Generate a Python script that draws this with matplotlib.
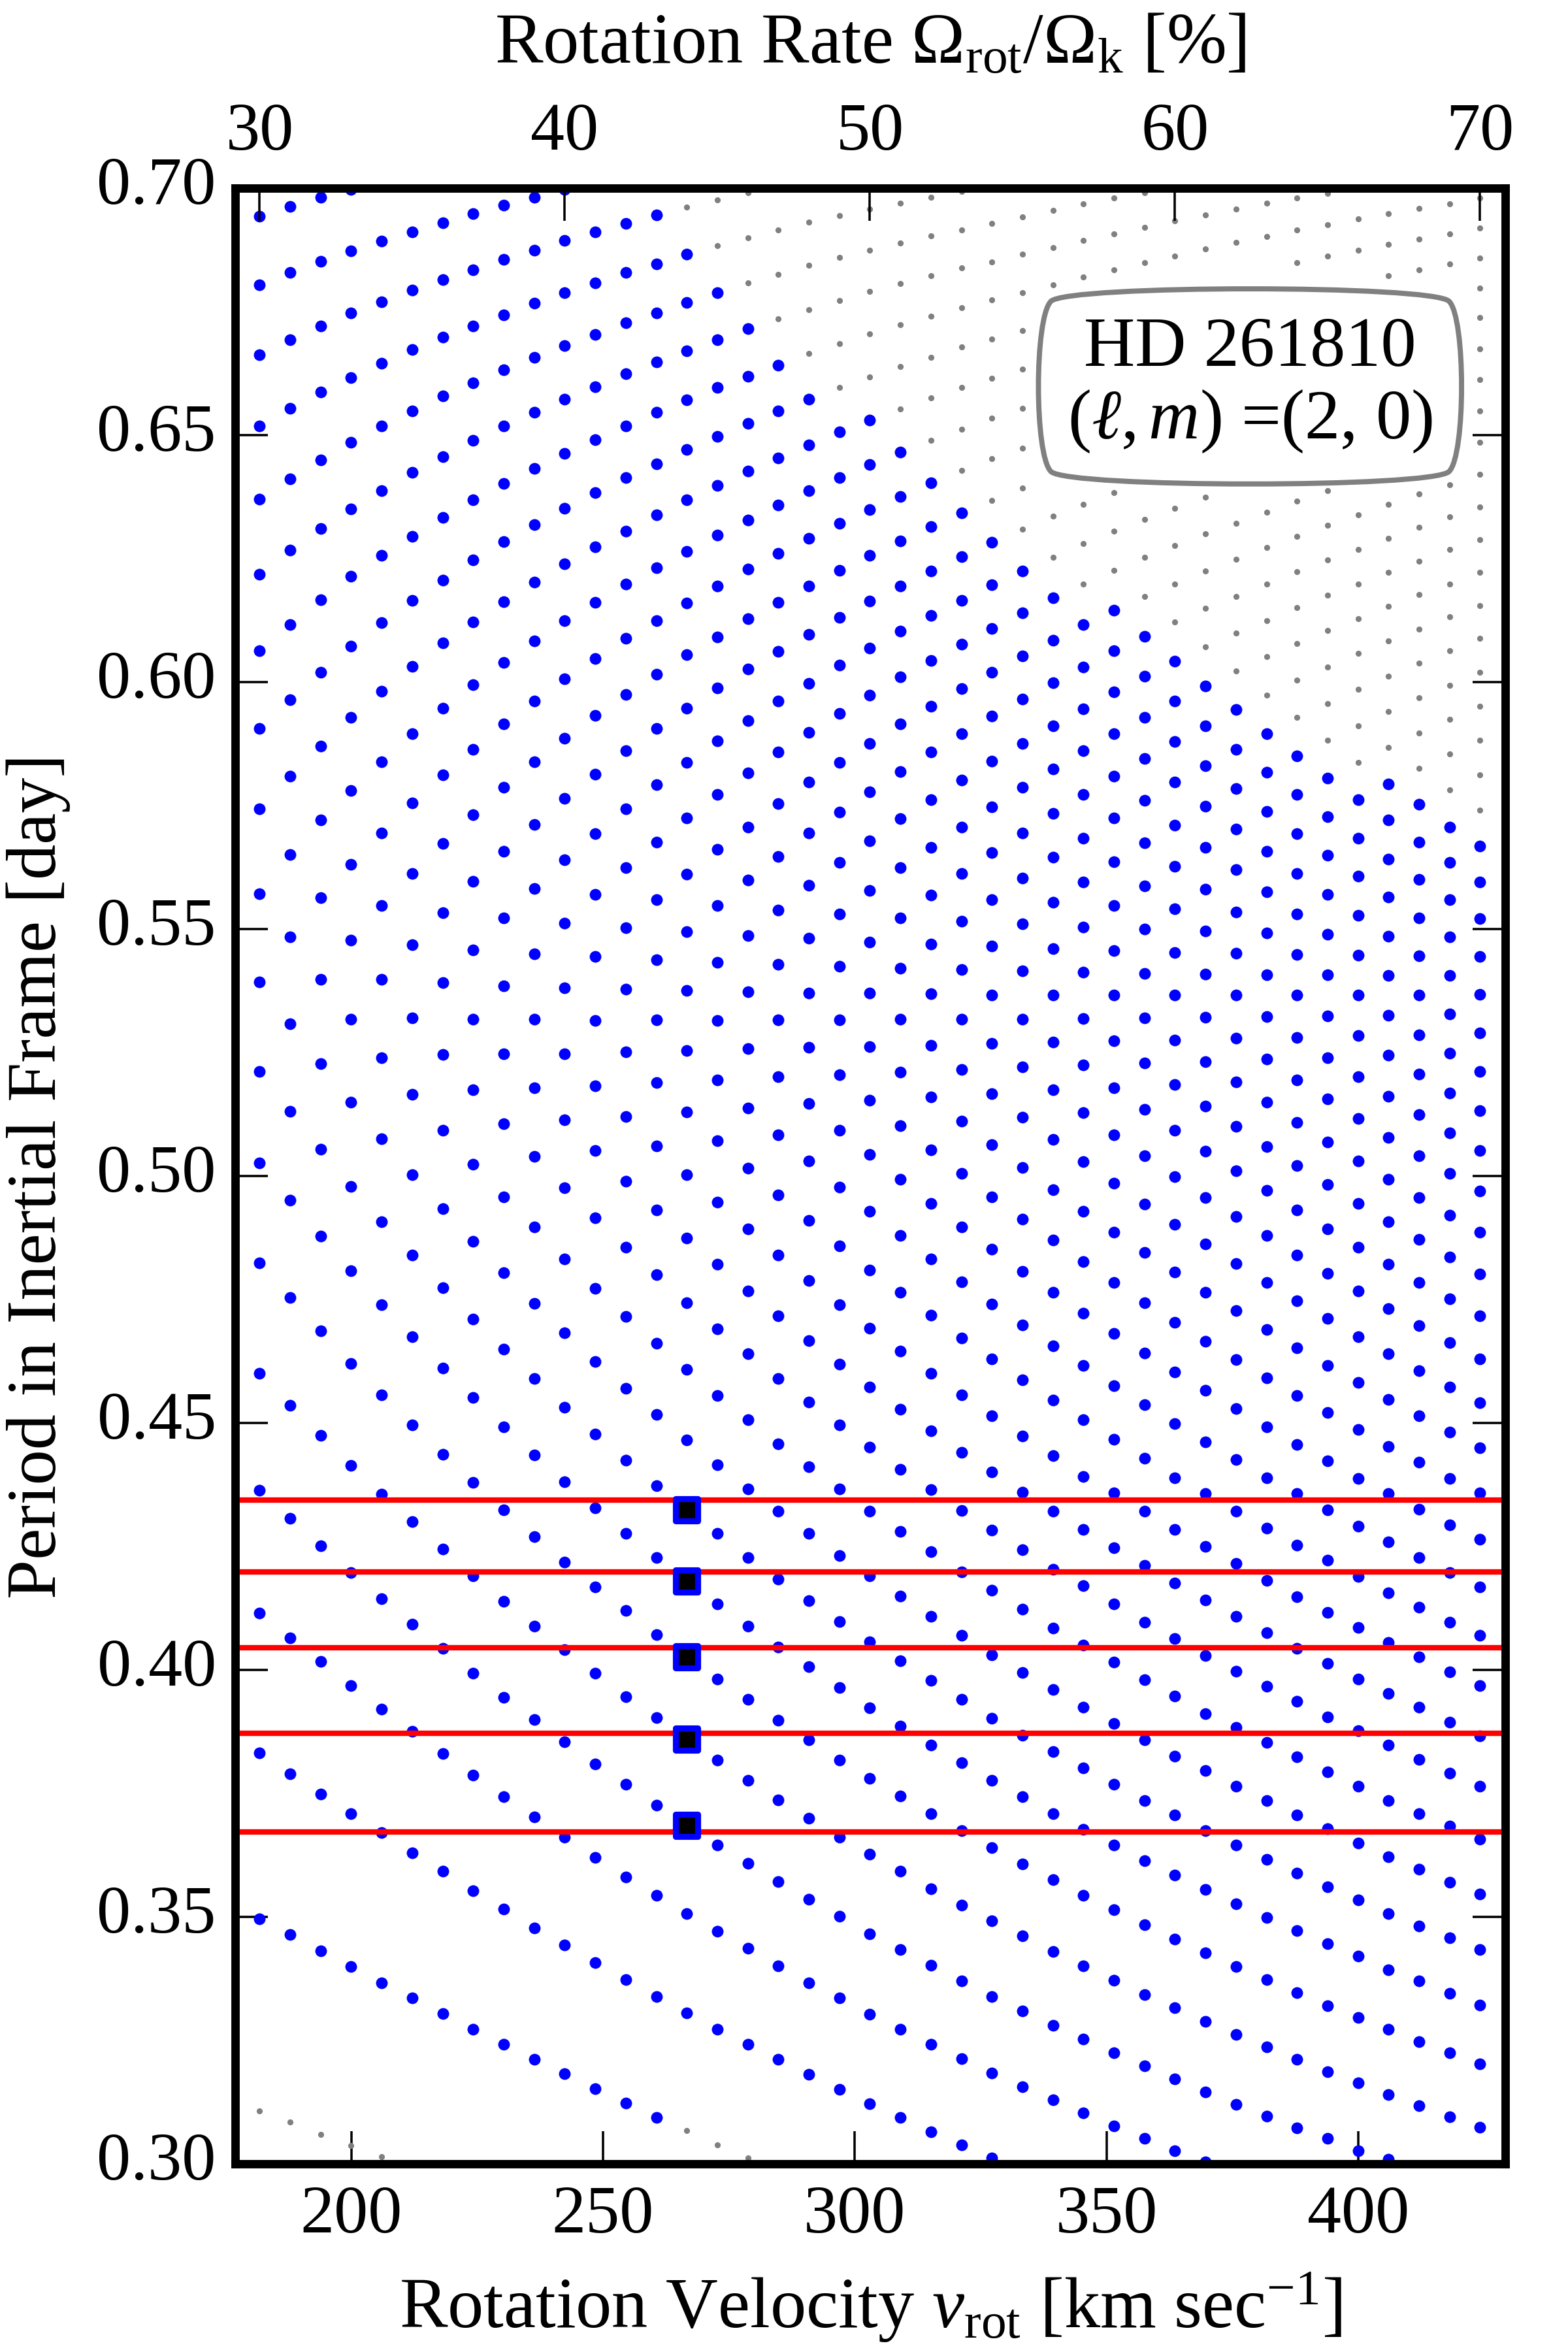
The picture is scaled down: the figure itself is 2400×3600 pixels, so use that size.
import numpy as np
import matplotlib
matplotlib.use("Agg")
import matplotlib.pyplot as plt
from matplotlib.markers import MarkerStyle
from matplotlib.transforms import ScaledTranslation

plt.rcParams["font.family"] = ["Liberation Serif", "DejaVu Serif"]
plt.rcParams["mathtext.fontset"] = "custom"
plt.rcParams["mathtext.rm"] = "Liberation Serif"
plt.rcParams["mathtext.it"] = "Liberation Serif:italic"
plt.rcParams["mathtext.fallback"] = "stix"

# rotation rate in percent of critical, one column of periods per rate
rates = list(range(30, 71))
v_per_percent = 6.06

b30 = [.6943,.6804,.6663,.6519,.6371,.6218,.6063,.5906,.5743,.5572,.5393,.5212,.5027,.4824,.4600,.4364,.4115,.3832,.3496]
b31 = [.6963,.6829,.6693,.6554,.6412,.6267,.6117,.5964,.5810,.5651,.5484,.5308,.5131,.4951,.4754,.4536,.4307,.4065,.3790,.3464]
b32 = [.6981,.6852,.6721,.6587,.6450,.6311,.6167,.6020,.5870,.5721,.5563,.5398,.5227,.5054,.4878,.4686,.4475,.4251,.4017,.3749,.3431]
b33 = [.6997,.6873,.6747,.6617,.6485,.6350,.6214,.6073,.5928,.5780,.5631,.5478,.5318,.5150,.4979,.4808,.4621,.4414,.4197,.3968,.3709,.3399]
b34 = [.6893,.6770,.6646,.6518,.6388,.6256,.6121,.5982,.5839,.5695,.5548,.5398,.5239,.5075,.4908,.4740,.4557,.4356,.4144,.3921,.3670,.3367]
b35 = [.6912,.6793,.6673,.6549,.6424,.6295,.6166,.6032,.5895,.5755,.5612,.5468,.5320,.5165,.5003,.4840,.4675,.4496,.4300,.4093,.3876,.3630,.3336]
b36 = [.6930,.6815,.6698,.6579,.6457,.6333,.6207,.6079,.5947,.5812,.5673,.5533,.5392,.5246,.5092,.4934,.4774,.4611,.4436,.4245,.4043,.3831,.3592,.3304]
b37 = [.6948,.6835,.6721,.6606,.6489,.6369,.6247,.6122,.5995,.5864,.5732,.5596,.5458,.5318,.5175,.5024,.4868,.4710,.4551,.4379,.4190,.3993,.3787,.3553,.3272]
b38 = [.6965,.6856,.6744,.6632,.6518,.6402,.6284,.6163,.6040,.5915,.5787,.5657,.5522,.5385,.5247,.5106,.4958,.4804,.4649,.4492,.4324,.4139,.3945,.3744,.3516,.3242]
b39 = [.6982,.6875,.6767,.6657,.6546,.6433,.6319,.6203,.6083,.5961,.5838,.5711,.5582,.5450,.5317,.5179,.5040,.4897,.4742,.4590,.4435,.4270,.4089,.3900,.3702,.3478,.3211]
b40 = [.6997,.6894,.6788,.6681,.6573,.6463,.6352,.6240,.6124,.6007,.5886,.5765,.5640,.5512,.5381,.5248,.5114,.4976,.4832,.4683,.4532,.4381,.4218,.4041,.3854,.3661,.3443,.3182]
b41 = [.6911,.6808,.6704,.6598,.6491,.6383,.6274,.6162,.6048,.5932,.5814,.5693,.5570,.5444,.5315,.5183,.5051,.4915,.4773,.4625,.4477,.4328,.4168,.3993,.3810,.3620,.3407,.3152]
b42 = [.6929,.6829,.6727,.6624,.6519,.6414,.6306,.6198,.6088,.5975,.5861,.5744,.5625,.5503,.5378,.5251,.5121,.4990,.4856,.4716,.4570,.4424,.4277,.4120,.3946,.3768,.3581,.3373,.3123]
b43 = [.6946,.6847,.6748,.6648,.6546,.6442,.6338,.6232,.6125,.6016,.5906,.5792,.5676,.5559,.5438,.5316,.5189,.5061,.4931,.4800,.4661,.4517,.4373,.4228,.4072,.3903,.3726,.3544,.3339,.3094]
b44 = [.6866,.6769,.6671,.6571,.6471,.6369,.6265,.6160,.6055,.5947,.5837,.5725,.5611,.5495,.5376,.5254,.5129,.5003,.4875,.4744,.4608,.4465,.4324,.4180,.4027,.3860,.3685,.3506,.3306]
b45 = [.6789,.6693,.6596,.6498,.6398,.6297,.6195,.6091,.5988,.5881,.5772,.5661,.5548,.5433,.5315,.5195,.5072,.4947,.4821,.4691,.4556,.4416,.4276,.4134,.3982,.3817,.3646,.3471,.3273]
b46 = [.6715,.6619,.6524,.6427,.6328,.6229,.6128,.6026,.5922,.5816,.5707,.5599,.5487,.5373,.5258,.5138,.5016,.4893,.4767,.4640,.4506,.4367,.4228,.4089,.3940,.3777,.3609,.3436,.3242]
b47 = [.6642,.6549,.6454,.6358,.6261,.6162,.6062,.5961,.5859,.5754,.5647,.5539,.5428,.5316,.5201,.5083,.4962,.4840,.4717,.4590,.4458,.4321,.4184,.4046,.3898,.3737,.3572,.3401,.3211]
b48 = [.6573,.6480,.6387,.6291,.6195,.6097,.5998,.5898,.5797,.5694,.5588,.5481,.5371,.5260,.5147,.5030,.4910,.4789,.4667,.4542,.4411,.4276,.4140,.4006,.3858,.3700,.3536,.3367,.3181]
b49 = [.6506,.6414,.6321,.6226,.6131,.6035,.5937,.5837,.5737,.5635,.5531,.5424,.5316,.5205,.5093,.4978,.4859,.4740,.4619,.4496,.4366,.4232,.4098,.3964,.3818,.3661,.3501,.3336,.3151]
b50 = [.6530,.6440,.6349,.6257,.6164,.6069,.5973,.5876,.5778,.5679,.5578,.5474,.5370,.5262,.5153,.5043,.4928,.4810,.4692,.4573,.4451,.4322,.4190,.4057,.3923,.3781,.3627,.3466,.3303,.3122]
b51 = [.6466,.6376,.6286,.6195,.6103,.6010,.5915,.5819,.5723,.5624,.5523,.5421,.5317,.5210,.5102,.4993,.4880,.4764,.4646,.4528,.4406,.4280,.4149,.4018,.3886,.3745,.3592,.3434,.3272,.3094]
b52 = [.6403,.6315,.6225,.6135,.6044,.5951,.5858,.5762,.5666,.5569,.5470,.5369,.5265,.5160,.5053,.4944,.4832,.4718,.4601,.4484,.4365,.4239,.4109,.3979,.3848,.3709,.3557,.3402,.3242,.3065]
b53 = [.6342,.6254,.6166,.6077,.5987,.5895,.5802,.5706,.5612,.5516,.5418,.5318,.5215,.5111,.5005,.4897,.4786,.4672,.4557,.4441,.4323,.4199,.4070,.3941,.3812,.3674,.3524,.3370,.3213,.3039]
b54 = [.6283,.6197,.6109,.6020,.5931,.5840,.5748,.5655,.5560,.5465,.5367,.5268,.5167,.5064,.4958,.4852,.4741,.4629,.4515,.4401,.4283,.4161,.4031,.3902,.3776,.3640,.3492,.3339,.3184,.3012]
b55 = [.6225,.6140,.6053,.5966,.5876,.5787,.5695,.5603,.5510,.5415,.5318,.5221,.5119,.5017,.4913,.4807,.4698,.4587,.4474,.4360,.4244,.4123,.3995,.3868,.3743,.3607,.3461,.3310,.3156]
b56 = [.6170,.6085,.5999,.5912,.5824,.5734,.5645,.5554,.5460,.5366,.5271,.5174,.5074,.4972,.4870,.4764,.4656,.4546,.4434,.4322,.4204,.4085,.3960,.3835,.3709,.3575,.3430,.3281,.3129]
b57 = [.6116,.6031,.5946,.5861,.5773,.5684,.5595,.5504,.5413,.5319,.5225,.5128,.5029,.4929,.4827,.4722,.4616,.4506,.4391,.4284,.4170,.4050,.3925,.3802,.3677,.3544,.3401,.3253,.3103]
b58 = [.6145,.6063,.5980,.5896,.5810,.5725,.5636,.5547,.5457,.5366,.5274,.5179,.5083,.4986,.4886,.4784,.4681,.4575,.4467,.4358,.4247,.4134,.4016,.3892,.3769,.3645,.3514,.3372,.3225,.3077]
b59 = [.6093,.6012,.5929,.5845,.5761,.5674,.5587,.5500,.5410,.5320,.5229,.5135,.5041,.4943,.4845,.4744,.4642,.4537,.4429,.4321,.4211,.4096,.3980,.3859,.3736,.3614,.3484,.3343,.3198,.3051]
b60 = [.6042,.5961,.5879,.5797,.5710,.5627,.5541,.5453,.5366,.5275,.5185,.5092,.4999,.4902,.4805,.4704,.4603,.4499,.4389,.4285,.4176,.4064,.3947,.3826,.3706,.3584,.3455,.3316,.3172,.3026]
b61 = [.5992,.5912,.5831,.5749,.5665,.5581,.5496,.5409,.5322,.5231,.5142,.5050,.4957,.4862,.4765,.4666,.4566,.4462,.4357,.4250,.4141,.4029,.3912,.3796,.3675,.3556,.3427,.3289,.3146,.3004]
b62 = [.5944,.5864,.5784,.5702,.5620,.5535,.5451,.5366,.5279,.5190,.5101,.5010,.4918,.4823,.4727,.4628,.4529,.4426,.4321,.4215,.4108,.3998,.3884,.3765,.3645,.3527,.3400,.3262,.3121]
b63 = [.5896,.5818,.5738,.5657,.5575,.5492,.5408,.5323,.5237,.5149,.5060,.4971,.4879,.4784,.4689,.4591,.4492,.4389,.4287,.4181,.4075,.3967,.3853,.3735,.3617,.3499,.3373,.3237,.3097]
b64 = [.5850,.5772,.5693,.5613,.5531,.5449,.5366,.5281,.5195,.5108,.5021,.4931,.4840,.4747,.4652,.4556,.4457,.4357,.4252,.4148,.4044,.3936,.3824,.3706,.3589,.3472,.3346,.3212,.3073]
b65 = [.5805,.5728,.5649,.5570,.5489,.5407,.5324,.5240,.5156,.5069,.4983,.4893,.4803,.4711,.4616,.4521,.4423,.4324,.4222,.4117,.4013,.3905,.3794,.3679,.3561,.3446,.3320,.3187,.3051]
b66 = [.5762,.5684,.5607,.5528,.5447,.5366,.5284,.5201,.5117,.5031,.4945,.4856,.4767,.4675,.4582,.4487,.4387,.4291,.4189,.4086,.3982,.3877,.3765,.3650,.3535,.3420,.3296,.3164,.3027]
b67 = [.5794,.5721,.5642,.5565,.5485,.5406,.5326,.5245,.5162,.5078,.4994,.4907,.4821,.4731,.4640,.4547,.4453,.4357,.4259,.4156,.4056,.3953,.3848,.3736,.3622,.3507,.3393,.3272,.3140,.3009]
b68 = [.5752,.5676,.5601,.5523,.5446,.5367,.5286,.5206,.5124,.5041,.4957,.4872,.4785,.4697,.4606,.4514,.4421,.4326,.4227,.4127,.4026,.3924,.3819,.3709,.3596,.3482,.3370,.3248,.3118]
b69 = [.5707,.5635,.5560,.5484,.5406,.5328,.5249,.5168,.5087,.5005,.4921,.4836,.4751,.4663,.4573,.4482,.4387,.4294,.4197,.4097,.3996,.3894,.3791,.3684,.3570,.3458,.3345,.3225,.3095]
b70 = [.5668,.5595,.5521,.5445,.5368,.5290,.5211,.5132,.5051,.4970,.4886,.4802,.4717,.4630,.4541,.4450,.4358,.4264,.4168,.4070,.3968,.3867,.3764,.3657,.3546,.3434,.3322,.3203,.3074]

blue_periods = [b30,b31,b32,b33,b34,b35,b36,b37,b38,b39,b40,b41,b42,b43,b44,b45,b46,b47,b48,b49,
                b50,b51,b52,b53,b54,b55,b56,b57,b58,b59,b60,b61,b62,b63,b64,b65,b66,b67,b68,b69,b70]

g30 = [.3107]
g31 = [.3084]
g32 = [.3060]
g33 = [.3037]
g34 = [.3014]
g44 = [.6961,.3067]
g45 = [.6976,.6884,.3039]
g46 = [.6991,.6900,.6808,.3012]
g47 = [.6916,.6826,.6735]
g48 = [.6931,.6844,.6754,.6665]
g49 = [.6945,.6860,.6773,.6685,.6597]
g50 = [.6958,.6874,.6791,.6705,.6618]
g51 = [.6970,.6889,.6807,.6724,.6639,.6553]
g52 = [.6982,.6903,.6823,.6741,.6658,.6575,.6490]
g53 = [.6993,.6916,.6838,.6758,.6678,.6596,.6512,.6428]
g54 = [.6929,.6851,.6774,.6695,.6615,.6534,.6452,.6368]
g55 = [.6942,.6866,.6789,.6712,.6634,.6554,.6474,.6393,.6310]
g56 = [.6955,.6880,.6804,.6336,.6253]
g57 = [.6968,.6894,.6820,.6360,.6280,.6199]
g58 = [.6980,.6908,.6835,.6384,.6306,.6226]
g59 = [.6991,.6921,.6849,.6329,.6252,.6173]
g60 = [.6934,.6862,.6352,.6276,.6199,.6122]
g61 = [.6946,.6877,.6374,.6300,.6225,.6149,.6071]
g62 = [.6958,.6890,.6322,.6249,.6173,.6099,.6022]
g63 = [.6970,.6902,.6344,.6272,.6199,.6125,.6051,.5974]
g64 = [.6980,.6915,.6849,.6366,.6295,.6223,.6151,.6078,.6004,.5928]
g65 = [.6989,.6926,.6862,.6387,.6317,.6247,.6176,.6104,.6031,.5957,.5882]
g66 = [.6938,.6874,.6338,.6269,.6199,.6128,.6058,.5985,.5912,.5837]
g67 = [.6948,.6886,.6823,.6360,.6291,.6222,.6153,.6083,.6012,.5940,.5868]
g68 = [.6959,.6897,.6835,.6381,.6313,.6245,.6177,.6107,.6038,.5968,.5897,.5825]
g69 = [.6968,.6908,.6847,.6400,.6334,.6268,.6199,.6132,.6063,.5994,.5924,.5854,.5782]
g70 = [.6980,.6919,.6859,.6798,.6738,.6675,.6613,.6549,.6485,.6420,.6355,.6289,.6222,.6155,.6088,.6020,.5951,.5882,.5812,.5741]

gray_rates = [30,31,32,33,34,44,45,46,47,48,49,50,51,52,53,54,55,56,57,58,59,60,61,62,63,64,65,66,67,68,69,70]
gray_periods = [g30,g31,g32,g33,g34,g44,g45,g46,g47,g48,g49,g50,g51,g52,g53,g54,g55,g56,g57,g58,g59,g60,g61,g62,g63,g64,g65,g66,g67,g68,g69,g70]

observed_periods = [.4344, .4199, .4045, .3872, .3672]
matched_rate = 44
matched_periods = [.4324, .4180, .4027, .3860, .3685]

x_ticks = [200, 250, 300, 350, 400]
y_ticks = [0.30, 0.35, 0.40, 0.45, 0.50, 0.55, 0.60, 0.65, 0.70]
top_ticks = [30, 40, 50, 60, 70]
x_min, x_max = 176.95, 429.2

fig, ax = plt.subplots(figsize=(8, 12), dpi=300)
fig.subplots_adjust(left=0.15, right=0.96, top=0.92, bottom=0.08)

for r, periods in zip(gray_rates, gray_periods):
    ax.plot([r * v_per_percent] * len(periods), periods, "o", color="gray", ms=2.2, mew=0, zorder=2)
for r, periods in zip(rates, blue_periods):
    ax.plot([r * v_per_percent] * len(periods), periods, "o", color="blue", ms=4.3, mew=0, zorder=3)

for p in observed_periods:
    ax.axhline(p, color="red", lw=2, zorder=4)

ax.plot([matched_rate * v_per_percent] * len(matched_periods), matched_periods, linestyle="none",
        marker=MarkerStyle("s", joinstyle="round"), mfc="black", mec="blue", ms=8, mew=2.2, zorder=5)

ax.set_xlim(x_min, x_max)
ax.set_ylim(0.30, 0.70)
ax.set_xticks(x_ticks)
ax.set_yticks(y_ticks)
ax.set_yticklabels([f"{y:.2f}" for y in y_ticks])
ax.tick_params(direction="in", length=12, width=0.85, labelsize=25, right=True)
ax.tick_params(axis="x", pad=8)
ax.tick_params(axis="y", pad=7)
ax.set_xlabel(r"Rotation Velocity $v_{\mathrm{rot}}$ [km sec$^{-1}$]", fontsize=26.5, labelpad=8.3)
ax.set_ylabel("Period in Inertial Frame [day]", fontsize=26, labelpad=9.7)

# the y labels sit a little above their ticks
lift = ScaledTranslation(0, 2.8 / 72, fig.dpi_scale_trans)
for t in ax.get_yticklabels():
    t.set_transform(t.get_transform() + lift)

top = ax.twiny()
top.set_xlim(x_min / v_per_percent, x_max / v_per_percent)
top.set_xticks(top_ticks)
top.tick_params(direction="in", length=12, width=0.85, labelsize=25, pad=9)
top.set_xlabel(r"Rotation Rate $\Omega_{\mathrm{rot}}/\Omega_{\mathrm{k}}$ [%]", fontsize=26.5, labelpad=14.4)

for a in (ax, top):
    for s in a.spines.values():
        s.set_linewidth(3)

ax.text(378.5, 0.66, "HD 261810\n" + r"($\ell,m$) =(2, 0)", fontsize=26, ha="center", va="center",
        linespacing=1.15, zorder=6,
        bbox=dict(boxstyle="round4,pad=0.47", fc="white", ec="gray", lw=1.9))

fig.savefig("out.png", dpi=300)
